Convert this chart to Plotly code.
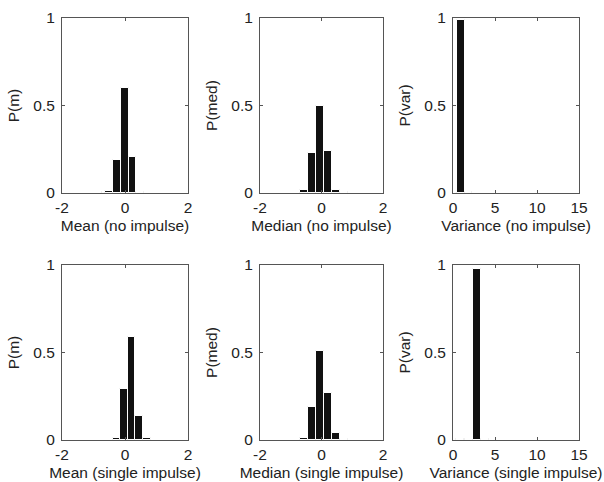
import plotly.graph_objects as go

# ---- data ----
mean_none_x = [-0.6, -0.5, -0.255, -0.01, 0.235, 0.48]
mean_none_p = [0.003, 0.01, 0.19, 0.60, 0.205, 0.005]

med_none_x = [-0.58, -0.32, -0.06, 0.20, 0.46, 0.72]
med_none_p = [0.02, 0.23, 0.50, 0.24, 0.02, 0.005]

var_none_x = [0.95, 1.85]
var_none_p = [0.99, 0.008]

mean_imp_x = [-0.25, -0.03, 0.21, 0.45, 0.69]
mean_imp_p = [0.012, 0.29, 0.59, 0.135, 0.01]

med_imp_x = [-0.58, -0.32, -0.06, 0.20, 0.46, 0.72]
med_imp_p = [0.01, 0.19, 0.51, 0.27, 0.04, 0.005]

var_imp_x = [0.8, 1.9, 2.9, 3.8]
var_imp_p = [0.003, 0.008, 0.98, 0.008]

xlabels = ["Mean (no impulse)", "Median (no impulse)", "Variance (no impulse)",
           "Mean (single impulse)", "Median (single impulse)", "Variance (single impulse)"]
ylabels = ["P(m)", "P(med)", "P(var)", "P(m)", "P(med)", "P(var)"]
xranges = [[-2, 2], [-2, 2], [0, 15], [-2, 2], [-2, 2], [0, 15]]
xticks = [[-2, 0, 2], [-2, 0, 2], [0, 5, 10, 15], [-2, 0, 2], [-2, 0, 2], [0, 5, 10, 15]]
xticktext = [["-2", "0", "2"], ["-2", "0", "2"], ["0", "5", "10", "15"],
             ["-2", "0", "2"], ["-2", "0", "2"], ["0", "5", "10", "15"]]
yticks = [0, 0.5, 1]
yticktext = ["0", "0.5", "1"]

series = [(mean_none_x, mean_none_p, 0.245), (med_none_x, med_none_p, 0.26),
          (var_none_x, var_none_p, 0.92), (mean_imp_x, mean_imp_p, 0.24),
          (med_imp_x, med_imp_p, 0.26), (var_imp_x, var_imp_p, 0.95)]

W, H = 604, 482
xdom_px = [(62, 188), (260, 383), (453, 579)]
ydom_px = [(18, 193), (265, 440)]

FONT = "Liberation Sans, Arial, Helvetica, sans-serif"
FS = 15.5
TXT = "#222222"

fig = go.Figure()
layout = dict(width=W, height=H, margin=dict(l=0, r=0, t=0, b=0, autoexpand=False),
              paper_bgcolor="white", plot_bgcolor="white", showlegend=False,
              font=dict(family=FONT, size=FS, color=TXT), bargap=0)

for i, (xs, ps, w) in enumerate(series):
    r, c = divmod(i, 3)
    n = i + 1
    xa = "x" if n == 1 else f"x{n}"
    ya = "y" if n == 1 else f"y{n}"
    fig.add_trace(go.Bar(x=xs, y=ps, width=w, xaxis=xa, yaxis=ya,
                         marker=dict(color="#111111", line=dict(color="white", width=1))))
    x0, x1 = xdom_px[c]
    y0, y1 = ydom_px[r]
    common = dict(showgrid=False, zeroline=False, showline=True, linecolor="#555555",
                  linewidth=1, mirror="ticks", ticks="inside", ticklen=3, automargin=False,
                  tickcolor="#555555", tickfont=dict(family=FONT, size=FS, color=TXT))
    layout["xaxis" if n == 1 else f"xaxis{n}"] = dict(
        domain=[x0 / W, x1 / W], anchor=ya, range=xranges[i], tickvals=xticks[i],
        ticktext=xticktext[i], ticklabelstandoff=0,
        title=dict(text=xlabels[i], standoff=5, font=dict(family=FONT, size=FS, color=TXT)),
        **common)
    layout["yaxis" if n == 1 else f"yaxis{n}"] = dict(
        domain=[1 - y1 / H, 1 - y0 / H], anchor=xa, range=[0, 1], tickvals=yticks,
        ticktext=yticktext, ticklabelstandoff=3,
        title=dict(text=ylabels[i], standoff=9, font=dict(family=FONT, size=FS, color=TXT)),
        **common)

fig.update_layout(**layout)
fig.write_html("out.html", config={"displayModeBar": False},
               post_script="document.body.style.margin='0';document.body.style.overflow='hidden';")
